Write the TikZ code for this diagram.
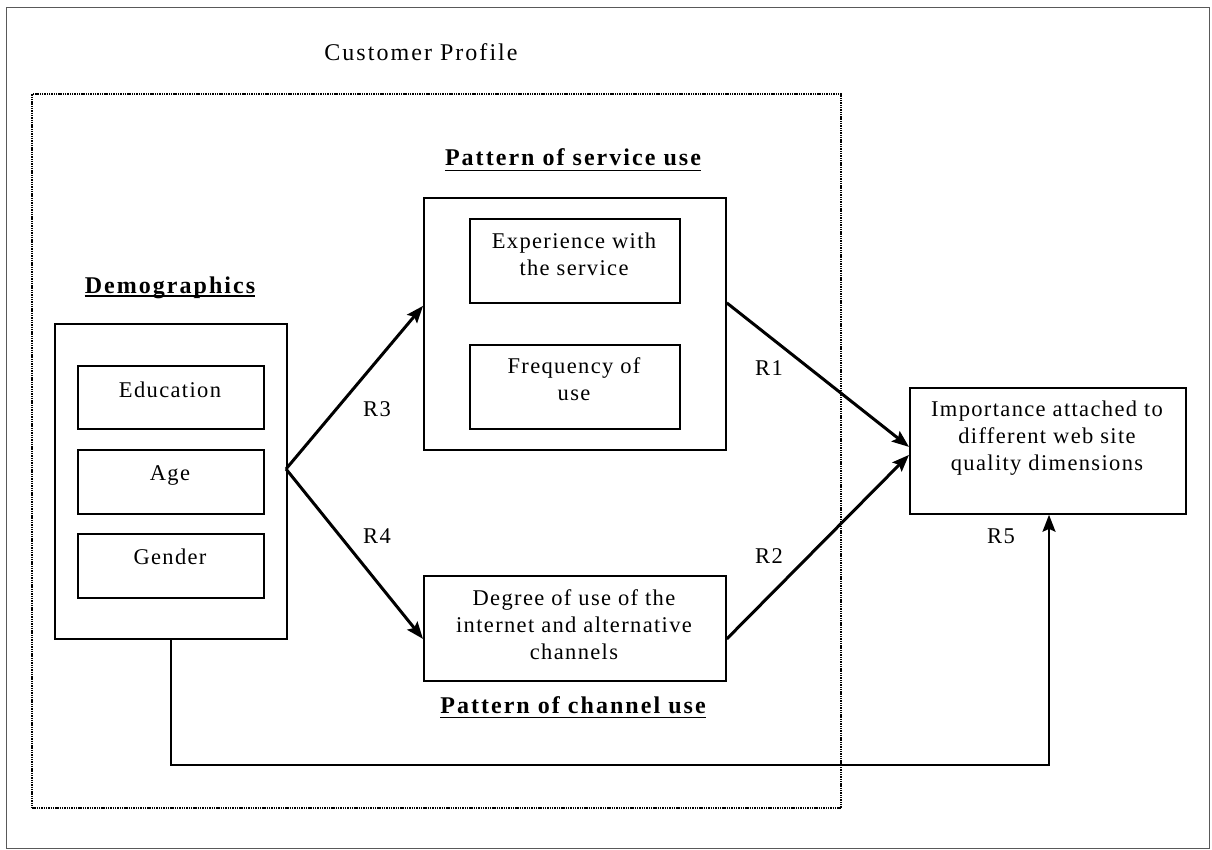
\documentclass[tikz,border=0pt]{standalone}
\usepackage{fontspec}
\setmainfont{Liberation Serif}[LetterSpace=6]
\newfontfamily\widefont{Liberation Serif}[LetterSpace=8.5]
\usetikzlibrary{arrows.meta}
\begin{document}
\begin{tikzpicture}[x=1pt,y=-1pt,
  box/.style={draw, line width=1.8pt, inner sep=0pt, anchor=north west},
  txt/.style={font=\fontsize{22.5}{27}\selectfont, align=center, inner sep=0pt, anchor=base},
  ttl/.style={font=\widefont\fontsize{24}{28}\selectfont\bfseries, inner sep=0pt, anchor=base},
  uline/.style={line width=1.8pt},
  arr/.style={line width=3pt, -{Stealth[length=17pt,width=13pt,inset=3pt]}},
  frame/.style={draw=black!65, line width=1.4pt, inner sep=0pt, anchor=north west},
  dotbox/.style={draw=black, line width=2.2pt, dash pattern=on 1.4pt off 0.9pt, inner sep=0pt, anchor=north west},
]
\useasboundingbox (0,0) rectangle (1212,850);
\fill[white] (0,0) rectangle (1212,850);

% frames
\node[frame, minimum width=1203pt, minimum height=841pt] (outer) at (6,7) {};
\node[dotbox, minimum width=809pt, minimum height=714pt] (profile) at (31,93) {};
\node[font=\widefont\fontsize{24}{28}\selectfont, inner sep=0pt, anchor=base] (cp) at (421,61) {Customer Profile};

% demographics
\node[box, minimum width=232pt, minimum height=315pt] (demo) at (54,323) {};
\node[box, minimum width=186pt, minimum height=63pt] (edu) at (77,365) {};
\node[box, minimum width=186pt, minimum height=64pt] (age) at (77,449) {};
\node[box, minimum width=186pt, minimum height=64pt] (gen) at (77,533) {};
\node[txt] (edut) at (170,397) {Education};
\node[txt] (aget) at (170,480) {Age};
\node[txt] (gent) at (170,564) {Gender};
\node[ttl] (demot) at (170,293) {Demographics};
\draw[uline] ([yshift=-3pt]demot.base west) -- ([yshift=-3pt]demot.base east);

% service use
\node[box, minimum width=302pt, minimum height=252pt] (serv) at (423,197) {};
\node[box, minimum width=210pt, minimum height=84pt] (exp) at (469,218) {};
\node[box, minimum width=210pt, minimum height=84pt] (freq) at (469,344) {};
\node[txt] (expt) at (574,276) {Experience with\\the service};
\node[txt] (freqt) at (574,400) {Frequency of\\use};
\node[ttl] (servt) at (573,166) {Pattern of service use};
\draw[uline] ([yshift=-4.5pt]servt.base west) -- ([yshift=-4.5pt]servt.base east);

% channel use
\node[box, minimum width=302pt, minimum height=105pt] (chan) at (423,575) {};
\node[txt] (chant) at (574,659) {Degree of use of the\\internet and alternative\\channels};
\node[ttl] (chantl) at (573,713) {Pattern of channel use};
\draw[uline] ([yshift=-4.5pt]chantl.base west) -- ([yshift=-4.5pt]chantl.base east);

% importance
\node[box, minimum width=276pt, minimum height=126pt] (imp) at (909,387) {};
\node[txt] (impt) at (1047,470) {Importance attached to\\different web site\\quality dimensions};

% connectors
\coordinate (apex) at (286,469);
\coordinate (r5c) at (1049,765);
\draw[arr] (apex) -- ([yshift=18pt]serv.west);
\draw[arr] (apex) -- ([yshift=-10.5pt]chan.west);
\draw[arr] ([yshift=21pt]serv.east) -- ([yshift=4pt]imp.west);
\draw[arr] ([yshift=-10.5pt]chan.east) -- ([yshift=-4pt]imp.west);
\draw[arr, line width=2.4pt] (demo.south) |- (r5c) -- (r5c |- imp.south);

% labels
\node[txt] (r3) at (377,416) {R3};
\node[txt] (r4) at (377,543) {R4};
\node[txt] (r1) at (769,375) {R1};
\node[txt] (r2) at (769,563) {R2};
\node[txt] (r5) at (1001,543) {R5};
\end{tikzpicture}
\end{document}
